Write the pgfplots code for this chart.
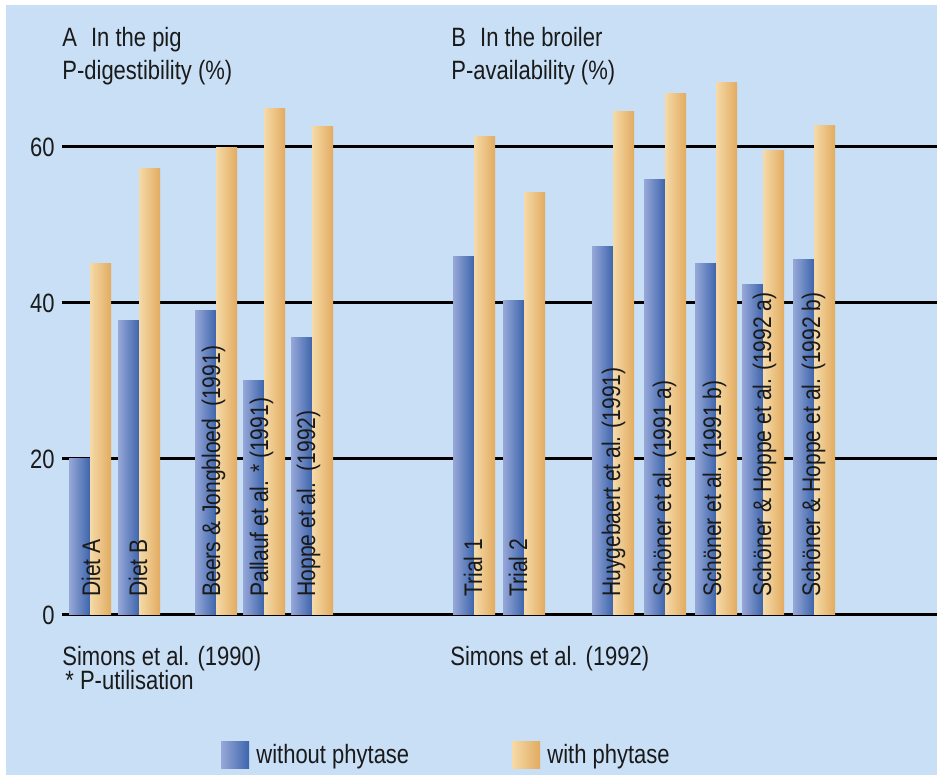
\documentclass[border=0pt]{standalone}
\usepackage{pgfplots}
\pgfplotsset{compat=1.18}
\usepackage{fontspec}
\setmainfont{Liberation Sans}[FakeStretch=0.83]
\definecolor{bg}{HTML}{C8DFF5}
\definecolor{blueL}{HTML}{97A8D8}
\definecolor{blueR}{HTML}{3D65AC}
\definecolor{orL}{HTML}{F5DAA8}
\definecolor{orR}{HTML}{E2AB60}
\definecolor{txt}{HTML}{1A1A1A}
\begin{document}
\fontsize{13.25}{15.9}\selectfont
\begin{tikzpicture}[x=0.5pt,y=0.5pt]
\fill[white] (0,0) rectangle (945,775);
\fill[bg] (6,0) rectangle (937,770);
\begin{axis}[
  at={(31pt,80pt)}, anchor=south west,
  scale only axis, width=437.5pt, height=273pt,
  xmin=62, xmax=937, ymin=0, ymax=70,
  axis line style={draw=none},
  xtick=\empty, ytick={0,20,40,60}, major tick length=0pt,
  ymajorgrids, grid style={black, line width=1.5pt},
  yticklabel style={text=txt, inner sep=0pt, xshift=-3.5pt},
  /pgf/number format/assume math mode=true,
  ybar, bar width=21,
  clip=false,
  bl/.style={bar shift=-10.5, draw=none, left color=blueL, right color=blueR},
  or/.style={bar shift=10.5, draw=none, left color=orL, right color=orR},
]
% without phytase
\addplot[bl] coordinates {(90,20.0)};
\addplot[bl] coordinates {(139,37.7)};
\addplot[bl] coordinates {(216,39.1)};
\addplot[bl] coordinates {(264,30.1)};
\addplot[bl] coordinates {(312,35.6)};
\addplot[bl] coordinates {(474,46.0)};
\addplot[bl] coordinates {(524,40.3)};
\addplot[bl] coordinates {(613,47.2)};
\addplot[bl] coordinates {(665,55.8)};
\addplot[bl] coordinates {(716,45.0)};
\addplot[bl] coordinates {(763,42.4)};
\addplot[bl] coordinates {(814,45.6)};
% with phytase
\addplot[or] coordinates {(90,45.0)};
\addplot[or] coordinates {(139,57.3)};
\addplot[or] coordinates {(216,59.9)};
\addplot[or] coordinates {(264,64.9)};
\addplot[or] coordinates {(312,62.6)};
\addplot[or] coordinates {(474,61.3)};
\addplot[or] coordinates {(524,54.2)};
\addplot[or] coordinates {(613,64.6)};
\addplot[or] coordinates {(665,66.8)};
\addplot[or] coordinates {(716,68.3)};
\addplot[or] coordinates {(763,59.6)};
\addplot[or] coordinates {(814,62.8)};
\begin{scope}[every node/.style={rotate=90, anchor=base west, inner sep=0pt, text=txt, font=\fontsize{12.7}{15}\selectfont}]
\node at (axis cs:100,2.3) {Diet A};
\node at (axis cs:147,2.3) {Diet B};
\node at (axis cs:220,2.3) {Beers \& Jongbloed\ \ (1991)};
\node at (axis cs:268,2.3) {Pallauf et al. * (1991)};
\node at (axis cs:315,2.3) {Hoppe et al.\ \ (1992)};
\node at (axis cs:482,2.3) {Trial 1};
\node at (axis cs:527,2.3) {Trial 2};
\node at (axis cs:620,2.3) {Huygebaert et al. (1991)};
\node at (axis cs:671,2.3) {Schöner et al. (1991 a)};
\node at (axis cs:721,2.3) {Schöner et al. (1991 b)};
\node at (axis cs:771,2.3) {Schöner \& Hoppe et al. (1992 a)};
\node at (axis cs:820,2.3) {Schöner \& Hoppe et al. (1992 b)};
\end{scope}
\end{axis}
\begin{scope}[every node/.style={anchor=base west, inner sep=0pt, text=txt}]
\node at (62,728) {A\hspace{0.3em} In the pig};
\node at (62,695) {P-digestibility (\%)};
\node at (451,728) {B\hspace{0.3em} In the broiler};
\node at (451,695) {P-availability (\%)};
\node at (62,110) {Simons et al. (1990)};
\node at (65,86) {* P-utilisation};
\node at (450,110) {Simons et al. (1992)};
\node at (256,12) {without phytase};
\node at (547,12) {with phytase};
\end{scope}
\shade[left color=blueL, right color=blueR] (221,7) rectangle (249,34);
\shade[left color=orL, right color=orR] (512,7) rectangle (540,34);
\end{tikzpicture}
\end{document}
